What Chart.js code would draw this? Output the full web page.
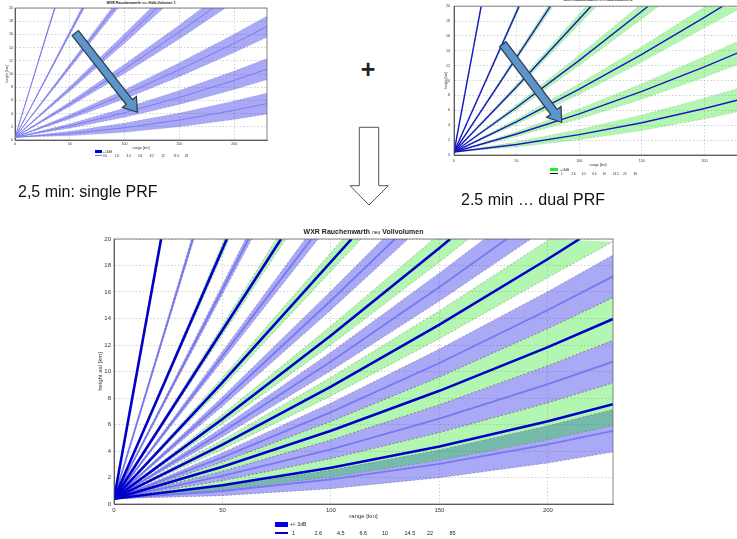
<!DOCTYPE html>
<html>
<head>
<meta charset="utf-8">
<script src="https://cdn.jsdelivr.net/npm/chart.js@4.4.0/dist/chart.umd.min.js"></script>
<style>
  body { margin: 0; width: 737px; height: 539px; overflow: hidden; background: #fff; position: relative;
         font-family: "Liberation Sans", Arial, sans-serif; color: #222; }
  canvas, .abs { position: absolute; }
  .ttl { text-align: center; white-space: nowrap; font-weight: bold; }
  .row { position: absolute; display: flex; white-space: nowrap; }
  .note { position: absolute; font-size: 16px; line-height: 16px; color: #111; white-space: nowrap; }
</style>
</head>
<body>

<!-- small chart: single PRF -->
<div class="abs ttl" style="left:41px;top:1px;width:200px;font-size:3.6px;">WXR Rauchenwarth <span style="font-weight:normal">neu</span> Halb-Volumen 1</div>
<canvas id="single-chart" width="270" height="151" style="left:4px;top:0;"></canvas>
<div class="abs" style="left:95px;top:150px;width:7px;height:2.5px;background:#0000dd;"></div>
<div class="abs" style="left:103px;top:149.5px;font-size:3px;">+/-3dB</div>
<div class="abs" style="left:95px;top:154.5px;width:7px;height:1px;background:#7b7bf2;"></div>
<div class="row" id="single-legend" style="left:103px;top:153.5px;font-size:3px;"></div>

<!-- small chart: dual PRF -->
<div class="abs ttl" style="left:498px;top:-2px;width:200px;font-size:3.6px;">WXR Rauchenwarth <span style="font-weight:normal">neu</span> Halb-Volumen 2</div>
<canvas id="dual-chart" width="310" height="168" style="left:443px;top:0;"></canvas>
<div class="abs" style="left:550px;top:168px;width:8px;height:3px;background:#22ee22;"></div>
<div class="abs" style="left:560px;top:168px;font-size:3px;">+/-3dB</div>
<div class="abs" style="left:550px;top:173px;width:8px;height:1px;background:#111;"></div>
<div class="row" id="dual-legend" style="left:561px;top:172px;font-size:3px;"></div>

<!-- slide decorations -->
<div class="abs" style="left:352px;top:54px;width:32px;text-align:center;font-size:25px;font-weight:bold;line-height:30px;">+</div>
<svg class="abs" style="left:0;top:0;" width="737" height="539">
  <polygon points="359.3,127.3 378.7,127.3 378.7,185.7 388.3,185.7 369,205 350,185.7 359.3,185.7"
           fill="#fff" stroke="#555" stroke-width="1"/>
</svg>
<div class="note" style="left:18px;top:184px;">2,5 min: single PRF</div>
<div class="note" style="left:461px;top:192px;">2.5 min … dual PRF</div>

<!-- combined chart -->
<div class="abs ttl" style="left:263.5px;top:227.5px;width:200px;font-size:7px;line-height:8px;">WXR Rauchenwarth <span style="font-weight:normal;font-size:5px">neu</span> Vollvolumen</div>
<canvas id="full-chart" width="530" height="292" style="left:95px;top:230px;"></canvas>
<div class="abs" style="left:275px;top:521.5px;width:13px;height:5px;background:#0000ee;"></div>
<div class="abs" style="left:290px;top:521px;font-size:5px;">+/- 3dB</div>
<div class="abs" style="left:275px;top:532px;width:13px;height:1.6px;background:#0000c8;"></div>
<div class="row" id="full-legend" style="left:292px;top:529.5px;font-size:5.5px;"></div>

<script>
// Elevation angles (deg) listed in the legends
const dualAngles = ['1', '2.6', '4.5', '6.6', '10', '14.5', '22', '85'];
const singleAngles = ['0.5', '1.8', '3.4', '5.6', '8.2', '12', '17.4', '28'];

// Beam traces: [range km, height km], steepest beam first.
// Single PRF scan: beam axis and the -3dB edges
const singleCenter = [
    [[0, 0.4], [36.3, 20]],
    [[0, 0.4], [62.0, 20]],
    [[0, 0.4], [91.0, 20]],
    [[0, 0.4], [50, 7.74], [100, 15.36], [129.5, 20]],
    [[0, 0.4], [50, 5.43], [100, 10.76], [150, 16.38], [181.0, 20]],
    [[0, 0.4], [50, 3.52], [100, 6.93], [150, 10.64], [200, 14.64], [230, 17.18]],
    [[0, 0.4], [50, 2.12], [100, 4.13], [150, 6.44], [200, 9.04], [230, 10.74]],
    [[0, 0.4], [50, 0.98], [100, 1.86], [150, 3.03], [200, 4.50], [230, 5.52]]
];
const singleLower = [
    [[0, 0.4], [36.9, 20]],
    [[0, 0.4], [63.5, 20]],
    [[0, 0.4], [94.1, 20]],
    [[0, 0.4], [50, 7.38], [100, 14.65], [135.6, 20]],
    [[0, 0.4], [50, 5.08], [100, 10.06], [150, 15.32], [192.2, 20]],
    [[0, 0.4], [50, 3.17], [100, 6.23], [150, 9.59], [200, 13.24], [230, 15.57]],
    [[0, 0.4], [50, 1.77], [100, 3.43], [150, 5.39], [200, 7.64], [230, 9.14]],
    [[0, 0.4], [50, 0.63], [100, 1.16], [150, 1.99], [200, 3.10], [230, 3.92]]
];
const singleUpper = [
    [[0, 0.4], [35.7, 20]],
    [[0, 0.4], [60.6, 20]],
    [[0, 0.4], [88.1, 20]],
    [[0, 0.4], [50, 8.09], [100, 16.08], [123.9, 20]],
    [[0, 0.4], [50, 5.79], [100, 11.46], [150, 17.44], [170.7, 20]],
    [[0, 0.4], [50, 3.87], [100, 7.63], [150, 11.69], [200, 16.04], [230, 18.79]],
    [[0, 0.4], [50, 2.47], [100, 4.83], [150, 7.49], [200, 10.44], [230, 12.35]],
    [[0, 0.4], [50, 1.33], [100, 2.56], [150, 4.08], [200, 5.90], [230, 7.13]]
];

// Dual PRF scan
const dualCenter = [
    [[0, 0.4], [21.7, 20]],
    [[0, 0.4], [52.0, 20]],
    [[0, 0.4], [77.0, 20]],
    [[0, 0.4], [50, 9.18], [109.5, 20]],
    [[0, 0.4], [50, 6.41], [100, 12.72], [150, 19.32], [155.0, 20]],
    [[0, 0.4], [50, 4.48], [100, 8.86], [150, 13.53], [200, 18.49], [214.6, 20]],
    [[0, 0.4], [50, 2.82], [100, 5.53], [150, 8.54], [200, 11.84], [230, 13.96]],
    [[0, 0.4], [50, 1.42], [100, 2.74], [150, 4.34], [200, 6.25], [230, 7.53]]
];
const dualLower = [
    [[0, 0.4], [22.1, 20]],
    [[0, 0.4], [53.1, 20]],
    [[0, 0.4], [79.2, 20]],
    [[0, 0.4], [50, 8.82], [113.9, 20]],
    [[0, 0.4], [50, 6.06], [100, 12.01], [150, 18.26], [163.5, 20]],
    [[0, 0.4], [50, 4.13], [100, 8.16], [150, 12.48], [200, 17.09], [230, 19.8]],
    [[0, 0.4], [50, 2.47], [100, 4.83], [150, 7.49], [200, 10.44], [230, 12.35]],
    [[0, 0.4], [50, 1.07], [100, 2.04], [150, 3.30], [200, 4.85], [230, 5.92]]
];
const dualUpper = [
    [[0, 0.4], [21.4, 20]],
    [[0, 0.4], [50.9, 20]],
    [[0, 0.4], [74.8, 20]],
    [[0, 0.4], [50, 9.54], [105.4, 20]],
    [[0, 0.4], [50, 6.77], [100, 13.43], [147.3, 20]],
    [[0, 0.4], [50, 4.83], [100, 9.56], [150, 14.58], [200.9, 20]],
    [[0, 0.4], [50, 3.17], [100, 6.23], [150, 9.59], [200, 13.24], [230, 15.57]],
    [[0, 0.4], [50, 1.77], [100, 3.43], [150, 5.39], [200, 7.64], [230, 9.14]]
];

Chart.defaults.font.family = '"Liberation Sans", Arial, sans-serif';
Chart.defaults.color = '#333';

const toXY = pts => pts.map(p => ({ x: p[0], y: p[1] }));

// One band (closed shape), optional dashed edges and the beam axis per elevation
const beamDatasets = (center, lower, upper, style) => {
    const sets = [];
    center.forEach((c, i) => {
        sets.push({
            data: toXY(upper[i].concat(lower[i].slice().reverse())),
            fill: 'shape', backgroundColor: style.band, borderWidth: 0, order: style.bandOrder,
        });
        if (style.edge) {
            [lower[i], upper[i]].forEach(e => sets.push({
                data: toXY(e), borderColor: style.edge, borderWidth: style.edgeWidth,
                borderDash: [2, 2], fill: false, order: 2,
            }));
        }
        sets.push({
            data: toXY(c), borderColor: style.line, borderWidth: style.lineWidth,
            fill: false, order: style.lineOrder,
        });
    });
    return sets;
};

// Axes box like the MATLAB figure
const framePlugin = {
    id: 'frame',
    afterDatasetsDraw(chart) {
        const { ctx, chartArea: a } = chart;
        ctx.save();
        ctx.strokeStyle = '#666';
        ctx.lineWidth = 0.8;
        ctx.strokeRect(a.left, a.top, a.right - a.left, a.bottom - a.top);
        ctx.restore();
    },
};

// Thick blue annotation arrow, given in data coordinates
const arrowPlugin = {
    id: 'arrow',
    afterDatasetsDraw(chart, args, opts) {
        if (!opts.from) return;
        const { x, y } = chart.scales;
        const x0 = x.getPixelForValue(opts.from[0]), y0 = y.getPixelForValue(opts.from[1]);
        const x1 = x.getPixelForValue(opts.to[0]), y1 = y.getPixelForValue(opts.to[1]);
        const len = Math.hypot(x1 - x0, y1 - y0);
        const ux = (x1 - x0) / len, uy = (y1 - y0) / len;
        const nx = -uy, ny = ux;
        const w = 4, hw = 9, hl = 13;
        const bx = x1 - ux * hl, by = y1 - uy * hl;
        const pts = [
            [x0 + nx * w, y0 + ny * w], [bx + nx * w, by + ny * w], [bx + nx * hw, by + ny * hw],
            [x1, y1],
            [bx - nx * hw, by - ny * hw], [bx - nx * w, by - ny * w], [x0 - nx * w, y0 - ny * w],
        ];
        const { ctx } = chart;
        ctx.save();
        ctx.beginPath();
        pts.forEach((p, i) => (i ? ctx.lineTo(p[0], p[1]) : ctx.moveTo(p[0], p[1])));
        ctx.closePath();
        ctx.fillStyle = '#5b95c9';
        ctx.strokeStyle = '#2d3a48';
        ctx.lineWidth = 1.2;
        ctx.fill();
        ctx.stroke();
        ctx.restore();
    },
};

const buildScales = (o) => ({
    x: {
        type: 'linear', min: 0, max: 230,
        ticks: { stepSize: 50, includeBounds: false, maxRotation: 0, font: { size: o.font }, padding: o.pad },
        grid: { color: 'rgba(0,0,0,0.18)', drawTicks: false },
        border: { color: '#555', dash: [1.5, 2] },
        title: { display: true, text: 'range [km]', font: { size: o.font }, padding: { top: 0, bottom: o.titlePad } },
        afterFit: s => { s.height = o.xHeight; },
    },
    y: {
        type: 'linear', min: 0, max: 20,
        ticks: { stepSize: 2, font: { size: o.font }, padding: o.pad },
        grid: { color: 'rgba(0,0,0,0.18)', drawTicks: false },
        border: { color: '#555', dash: [1.5, 2] },
        title: { display: true, text: o.yTitle, font: { size: o.font }, padding: { top: o.titlePad, bottom: 0 } },
        afterFit: s => { s.width = o.yWidth; },
    },
});

const renderChart = (id, datasets, scaleOpts, padding, arrow) => new Chart(document.getElementById(id), {
    type: 'line',
    data: { datasets },
    options: {
        responsive: false,
        animation: false,
        events: [],
        parsing: true,
        layout: { padding },
        elements: { point: { radius: 0 }, line: { tension: 0 } },
        plugins: { legend: { display: false }, tooltip: { enabled: false }, arrow: arrow || {} },
        scales: buildScales(scaleOpts),
    },
    plugins: [framePlugin, arrowPlugin],
});

const blueBand = 'rgba(40,40,230,0.4)';
const greenBand = 'rgba(0,225,0,0.3)';

// Top left: single PRF only
renderChart('single-chart',
    beamDatasets(singleCenter, singleLower, singleUpper,
        { band: blueBand, bandOrder: 4, edge: 'rgba(90,90,140,0.5)', edgeWidth: 0.4, line: '#7b7bf2', lineWidth: 1, lineOrder: 1 }),
    { font: 3.6, pad: 2, titlePad: 0.5, xHeight: 11, yWidth: 11, yTitle: 'height [km]' },
    { top: 8, right: 7, left: 0, bottom: 0 },
    { from: [55, 16.2], to: [111.7, 4.2] });

// Top right: dual PRF only
renderChart('dual-chart',
    beamDatasets(dualCenter, dualLower, dualUpper,
        { band: greenBand, bandOrder: 3, edge: 'rgba(120,110,100,0.5)', edgeWidth: 0.4, line: '#1818c0', lineWidth: 1.4, lineOrder: 0 }),
    { font: 3.6, pad: 4, titlePad: 0.5, xHeight: 13, yWidth: 11, yTitle: 'height [km]' },
    { top: 5, right: 11, left: 0, bottom: 0 },
    { from: [39, 14.9], to: [86, 4.4] });

// Bottom: both scans combined
renderChart('full-chart',
    beamDatasets(singleCenter, singleLower, singleUpper,
        { band: blueBand, bandOrder: 4, edge: 'rgba(90,80,110,0.55)', edgeWidth: 0.7, line: '#7878f0', lineWidth: 1.8, lineOrder: 1 })
        .concat(beamDatasets(dualCenter, dualLower, dualUpper,
        { band: greenBand, bandOrder: 3, edge: 'rgba(120,100,90,0.6)', edgeWidth: 0.7, line: '#0000c8', lineWidth: 2.6, lineOrder: 0 })),
    { font: 6, pad: 3, titlePad: 2, xHeight: 18, yWidth: 19, yTitle: 'height asl [km]' },
    { top: 9, right: 12, left: 0, bottom: 0 });

// Legend label rows
const fillLegend = (id, labels, cell) => {
    const row = document.getElementById(id);
    labels.forEach(t => {
        const s = document.createElement('span');
        s.textContent = t;
        s.style.width = cell + 'px';
        row.appendChild(s);
    });
};
fillLegend('single-legend', singleAngles, 11.7);
fillLegend('dual-legend', dualAngles, 10.4);
fillLegend('full-legend', dualAngles, 22.5);
</script>
</body>
</html>
